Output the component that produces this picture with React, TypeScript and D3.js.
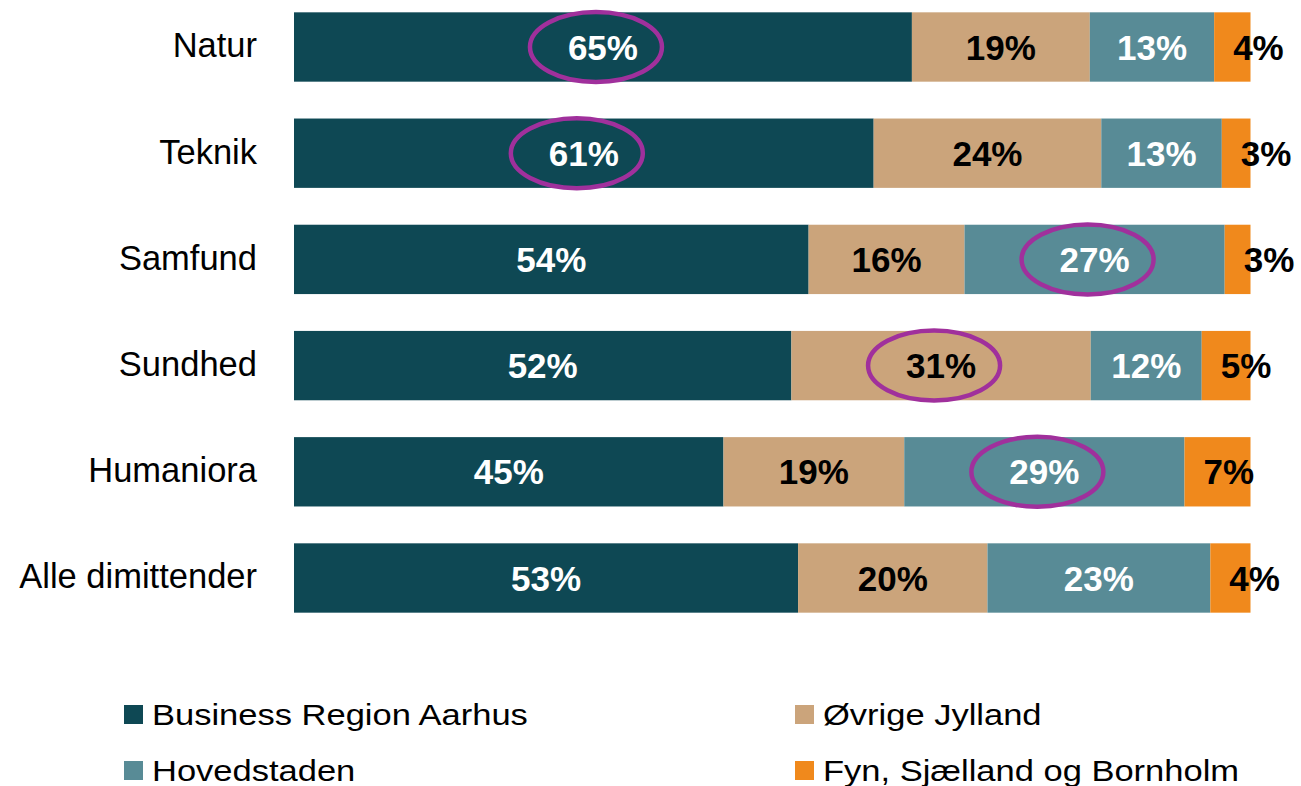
import * as d3 from "d3";

const WIDTH = 1301;
const HEIGHT = 786;

// rows, top to bottom
const categories = ["Natur", "Teknik", "Samfund", "Sundhed", "Humaniora", "Alle dimittender"];

const seriesNames = [
  "Business Region Aarhus",
  "Øvrige Jylland",
  "Hovedstaden",
  "Fyn, Sjælland og Bornholm",
];

const seriesColors = ["#0e4854", "#cba47b", "#588b96", "#f0891c"];
const labelColors = ["#ffffff", "#000000", "#ffffff", "#000000"];

// shares in % per category
const aarhus = [64.6, 60.6, 53.8, 52.0, 44.9, 52.7];
const oevrigeJylland = [18.6, 23.8, 16.3, 31.3, 18.9, 19.8];
const hovedstaden = [13.0, 12.6, 27.2, 11.6, 29.3, 23.3];
const fynSjaelland = [3.8, 3.0, 2.7, 5.1, 6.9, 4.2];

// circled cells: [category, series index]
const highlights: [string, number][] = [
  ["Natur", 0],
  ["Teknik", 0],
  ["Samfund", 2],
  ["Sundhed", 1],
  ["Humaniora", 2],
];

const FONT = "'Liberation Sans', Arial, sans-serif";

export default function App() {
  const seriesValues = [aarhus, oevrigeJylland, hovedstaden, fynSjaelland];

  const rows = categories.map((c, i) => {
    const r: Record<string, any> = { category: c };
    seriesNames.forEach((s, j) => (r[s] = seriesValues[j][i]));
    return r;
  });

  const stacked = d3.stack().keys(seriesNames)(rows as any);

  const x = d3.scaleLinear().domain([0, 100]).range([294, 1250.5]);
  const y = d3
    .scaleBand()
    .domain(categories)
    .range([-6.1, 631.1])
    .paddingInner(0.347)
    .paddingOuter(0.1735);

  const bw = y.bandwidth();

  return (
    <svg
      width={WIDTH}
      height={HEIGHT}
      style={{ position: "absolute", left: 0, top: 0, background: "#fff" }}
      fontFamily={FONT}
    >
      {/* category labels */}
      {categories.map((c) => (
        <text
          key={c}
          x={257}
          y={(y(c) as number) + bw / 2}
          dy="0.3em"
          textAnchor="end"
          fontSize={34.5}
          fill="#000"
        >
          {c}
        </text>
      ))}

      {/* stacked segments */}
      {stacked.map((layer, si) => (
        <g key={layer.key} fill={seriesColors[si]}>
          {layer.map((d, i) => (
            <rect
              key={i}
              x={x(d[0])}
              y={y(categories[i])}
              width={x(d[1]) - x(d[0])}
              height={bw}
            />
          ))}
        </g>
      ))}

      {/* value labels */}
      {stacked.map((layer, si) => (
        <g key={"lab-" + layer.key}>
          {layer.map((d, i) => {
            const last = si === seriesNames.length - 1;
            const lx = last ? x(d[0]) + 19 : (x(d[0]) + x(d[1])) / 2;
            return (
              <text
                key={i}
                x={lx}
                y={(y(categories[i]) as number) + bw / 2}
                dy="0.36em"
                textAnchor={last ? "start" : "middle"}
                fontSize={35}
                fontWeight="bold"
                fill={labelColors[si]}
              >
                {Math.round(d[1] - d[0])}%
              </text>
            );
          })}
        </g>
      ))}

      {/* purple rings */}
      {highlights.map(([c, si]) => {
        const i = categories.indexOf(c);
        const d = stacked[si][i];
        const cx = (x(d[0]) + x(d[1])) / 2 - 7;
        const cy = (y(c) as number) + bw / 2;
        return (
          <ellipse
            key={c}
            cx={cx}
            cy={cy}
            rx={66}
            ry={35}
            fill="none"
            stroke="#a0309c"
            strokeWidth={4.5}
          />
        );
      })}

      {/* legend */}
      {seriesNames.map((s, i) => {
        const lx = i % 2 === 0 ? 124 : 795;
        const ly = i < 2 ? 705 : 761;
        return (
          <g key={s}>
            <rect x={lx} y={ly} width={19} height={19} fill={seriesColors[i]} />
            <text
              transform={`translate(${lx + 28},${ly + 20}) scale(1.19,1)`}
              fontSize={29}
              fill="#000"
            >
              {s}
            </text>
          </g>
        );
      })}
    </svg>
  );
}
